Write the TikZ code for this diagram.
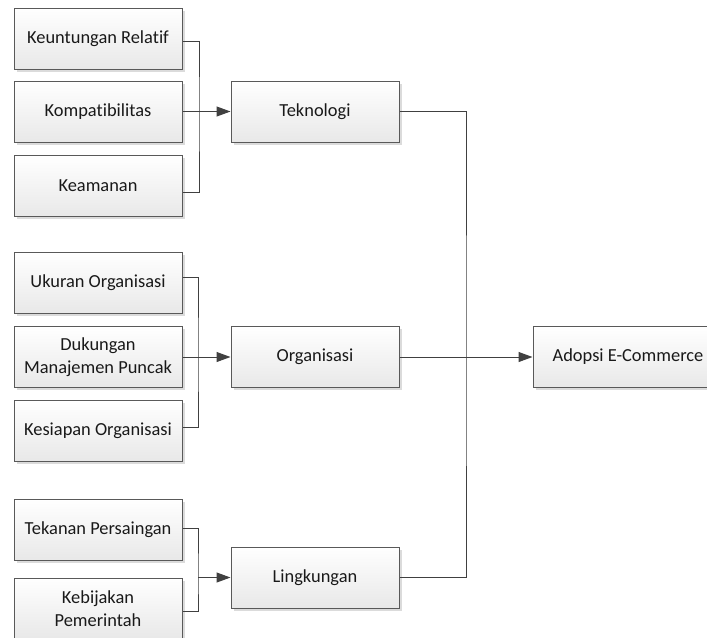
\documentclass[tikz,border=0pt]{standalone}
\usepackage{fontspec}
\setmainfont{Carlito}[Ligatures={NoCommon}]
\usetikzlibrary{arrows.meta, shadows}

\tikzset{
    box/.style={draw=black!65, line width=0.75pt, top color=white, bottom color=black!9,
        minimum width=126pt, minimum height=45.75pt, align=center, text=black!90,
        font=\fontsize{13.8}{17.25}\selectfont,
        drop shadow={fill=black!14, opacity=1, shadow xshift=2pt, shadow yshift=-2pt}},
    wide/.style={box, minimum width=142.5pt},
    link/.style={draw=black!75, line width=0.75pt},
    arrow/.style={link, -{Triangle[length=10.5pt, width=7.5pt]}}
}

\begin{document}
\begin{tikzpicture}[x=0.75pt, y=-0.75pt]
    \useasboundingbox (0,0) rectangle (707,637);
    % left column
    \node (kr) at (98,38.5) [box] {Keuntungan Relatif};
    \node (ko) at (98,111.5) [box] {Kompatibilitas};
    \node (ke) at (98,186) [box] {Keamanan};
    \node (uo) at (98,283) [box] {Ukuran Organisasi};
    \node (dm) at (98,357) [box] {Dukungan\\Manajemen Puncak};
    \node (ks) at (98,430.5) [box] {Kesiapan Organisasi};
    \node (tp) at (98,530) [box] {Tekanan Persaingan};
    \node (kp) at (98,608.5) [box] {Kebijakan\\Pemerintah};
    % middle column
    \node (tek) at (315,111.5) [box] {Teknologi};
    \node (org) at (315,357) [box] {Organisasi};
    \node (lin) at (315,577.5) [box] {Lingkungan};
    % result
    \node (adp) at (628,357) [wide] {Adopsi E-Commerce};

    \coordinate (jt) at (199,111.5);
    \coordinate (jo) at (198,357);
    \coordinate (jl) at (198,577.5);
    \coordinate (jr) at (466,357);

    \draw [link] ([yshift=-2.6pt]kr.east) -| (jt) |- ([yshift=-5.2pt]ke.east);
    \draw [arrow] (ko.east) -- (tek.west);
    \draw [link] ([yshift=4.5pt]uo.east) -| (jo) |- ([yshift=2.6pt]ks.east);
    \draw [arrow] (dm.east) -- (org.west);
    \draw [link] ([yshift=1.5pt]tp.east) -| (jl) |- ([yshift=-2.6pt]kp.east);
    \draw [arrow] (jl) -- (lin.west);
    \draw [link] (tek.east) -| (jr) |- (lin.east);
    \draw [arrow] (org.east) -- (adp.west);
\end{tikzpicture}
\end{document}
